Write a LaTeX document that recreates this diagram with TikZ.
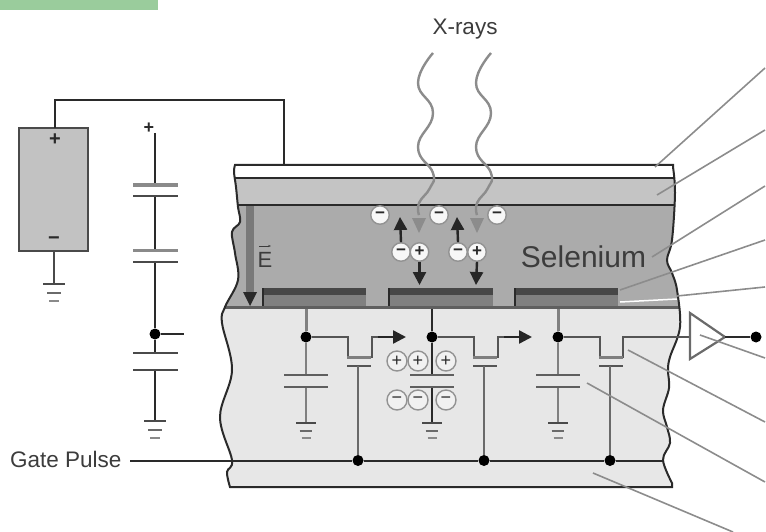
\documentclass[tikz,border=0pt]{standalone}
\usepackage{fontspec}
\setmainfont{Liberation Sans}
\usetikzlibrary{arrows.meta,calc}
\definecolor{ink}{HTML}{2A2A2A}
\definecolor{txt}{HTML}{3C3C3C}
\definecolor{leader}{HTML}{8C8C8C}
\definecolor{layerB}{HTML}{C4C4C4}
\definecolor{selen}{HTML}{ABABAB}
\definecolor{subst}{HTML}{E7E7E7}
\definecolor{batt}{HTML}{C2C2C2}
\definecolor{greenbar}{HTML}{9ACC9C}
\newcommand{\bodypath}{plot[smooth,tension=0.6] coordinates {(235,165)(234,172)(236,187)(238,207)(240,222)(232,232)(235,253)(238,280)(225,307)(222,323)(232,370)(220,417)(232,460)(227,472)(230,487)} -- (672,487) -- plot[smooth,tension=0.6] coordinates {(672,483)(663,460)(670,443)(667,427)(663,410)(669,388)(668,370)(670,357)(680,327)(677,290)(672,273)(667,260)(672,240)(675,193)(673,167)} -- (673,165) -- cycle}
\tikzset{
  x=1pt,y=-1pt,
  wire/.style={draw=ink,line width=2pt},
  wirelt/.style={draw=ink!80,line width=2.4pt},
  plate/.style={draw=ink!85,line width=2.2pt},
  dotn/.style={circle,fill=black,inner sep=0pt,minimum size=11pt},
  ion/.style={circle,draw=gray!85,line width=1.4pt,fill=white!94!gray,inner sep=0pt,minimum size=18.5pt,text=ink,font=\fontsize{17}{17}\selectfont\bfseries},
  ionb/.style={ion,minimum size=20pt,fill=subst!60!white,font=\fontsize{18}{18}\selectfont},
  leaderl/.style={draw=leader,line width=1.6pt},
  label/.style={text=txt,inner sep=0pt,font=\fontsize{22.5}{24}\selectfont},
  blackarrow/.style={draw=black!85,line width=2.4pt,-{Triangle[length=13pt,width=13pt]}},
  gnd/.pic={
    \draw[plate] (-11,0) -- (11,0);
    \draw[plate,draw=ink!70] (-7,9) -- (7,9);
    \draw[plate,draw=ink!55] (-5,17) -- (5,17);
  }
}
\begin{document}
\begin{tikzpicture}
\useasboundingbox (0,0) rectangle (766,532);
\fill[greenbar] (0,0) rectangle (158,10);

% device body
\begin{scope}
  \clip \bodypath;
  \fill[white] (200,160) rectangle (700,178);
  \fill[layerB] (200,178) rectangle (700,205);
  \fill[selen] (200,205) rectangle (700,308);
  \fill[subst] (200,308) rectangle (700,490);
  \draw[wire] (200,178) -- (700,178);
  \draw[wire,line width=2.4pt] (200,205) -- (700,205);
  \draw[wire,line width=3pt,draw=ink!75] (200,307.5) -- (700,307.5);
  \draw[wire] (200,165.5) -- (700,165.5);
  \foreach \l/\r in {263/366,389/493,515/618} {
    \fill[black!50] (\l,294) rectangle (\r,306);
    \fill[black!72] (\l,288) rectangle (\r,295);
    \draw[ink,line width=1.4pt] (\l,288) -- (\l,306);
  }
  \draw[white,line width=1.5pt] (620,302) -- (677,299);
\end{scope}
\draw[ink,line width=2pt] \bodypath;

% leaders
\coordinate (l1a) at (765,68);  \coordinate (l1b) at (655,167);
\coordinate (l2a) at (765,130); \coordinate (l2b) at (657,195);
\coordinate (l3a) at (765,186); \coordinate (l3b) at (652,257);
\coordinate (l4a) at (765,240); \coordinate (l4b) at (620,290);
\coordinate (l5a) at (765,287); \coordinate (l5b) at (677,296);
\coordinate (l6a) at (765,358); \coordinate (l6b) at (700,335);
\coordinate (l7a) at (765,422); \coordinate (l7b) at (628,350);
\coordinate (l8a) at (765,482); \coordinate (l8b) at (587,383);
\coordinate (l9a) at (733,532); \coordinate (l9b) at (593,473);

% battery
\node[draw=ink!85,line width=2.2pt,fill=batt,minimum width=69pt,minimum height=123pt,inner sep=0pt] (battery) at (53.5,189.5) {};
\node[inner sep=0pt,text=ink,font=\fontsize{20}{20}\selectfont\bfseries] (bplus) at (55,139.5) {+};
\node[inner sep=0pt,text=ink,font=\fontsize{20}{20}\selectfont\bfseries] (bminus) at (54,240.5) {−};
\coordinate (topel) at (284,165);
\coordinate (bg) at (54,284);
\draw[wire,line width=2.4pt] (55,128) -- (55,100) -- (284,100) -- (topel);
\draw[wire,draw=ink!85] (54,251) -- (bg);
\pic at (bg) {gnd};

% capacitor stack
\node[inner sep=0pt,text=ink,font=\fontsize{18}{18}\selectfont\bfseries] (splus) at (149,128) {+};
\coordinate (s0) at (155,133);
\coordinate (s1) at (155,185); \coordinate (s2) at (155,196);
\coordinate (s3) at (155,250); \coordinate (s4) at (155,262);
\node[dotn] (sd) at (155,334) {};
\coordinate (sstub) at (184,334);
\coordinate (s5) at (155,353); \coordinate (s6) at (155,370);
\coordinate (sg) at (155,421);
\draw[wire] (s0) -- (s1) (s2) -- (s3) (s4) -- (sd) -- (s5) (s6) -- (sg) (sd) -- (sstub);
\foreach \p/\c/\w in {s1/ink!55/3.6pt,s2/ink!85/2.2pt,s3/ink!55/3pt,s4/ink!85/2.2pt,s5/ink!85/2.2pt,s6/ink!85/2.2pt}
  \draw[draw=\c,line width=\w] ($(\p)+(-22,0)$) -- ($(\p)+(23,0)$);
\pic at (sg) {gnd};

% gate line
\node[label,anchor=west] (gate) at (10,459) {Gate Pulse};
\node[dotn] (g1) at (358,460.5) {};
\node[dotn] (g2) at (484,460.5) {};
\node[dotn] (g3) at (610,460.5) {};
\coordinate (gstart) at (130,460.5);
\coordinate (gend) at (664,460.5);
\draw[wire] (gstart) -- (g1) -- (g2) -- (g3) -- (gend);

% pixel circuits
\node[dotn] (d1) at (306,337) {};
\node[dotn] (d2) at (432,337) {};
\node[dotn] (d3) at (558,337) {};
\coordinate (a1) at (406,337);
\coordinate (a2) at (532,337);
\draw[line width=3pt,draw=gray] (d1) -- (306,309);
\draw[wire] (d2) -- (432,309);
\draw[line width=3pt,draw=gray] (d3) -- (558,309);
\foreach \d/\x/\ty in {d1/348/a1,d2/474/a2} {
  \draw[wirelt,line join=miter] (\d) -- (\x,337) -- (\x,357) -- (\x+24,357) -- (\x+24,337) -- (\x+33,337);
  \draw[blackarrow] (\x+30,337) -- (\ty);
}
% amplifier
\node[dotn] (out) at (756,337) {};
\coordinate (ampin) at (690,337);
\draw[wirelt,line join=miter] (d3) -- (600,337) -- (600,357) -- (623,357) -- (623,337) -- (ampin);
\draw[draw=ink!70,line width=2.2pt,fill=white,line join=miter] (690,313) -- (725,337) -- (690,359) -- cycle;
\coordinate (amptip) at (725,337);
\draw[wire] (amptip) -- (out);

% channel gates + cap columns
\foreach \g/\x in {g1/358,g2/484,g3/610} {
  \draw[line width=3pt,draw=ink!60] (\x-11,357) -- (\x+13,357);
  \draw[plate,draw=ink!80] (\x-11,366) -- (\x+13,366);
  \draw[wirelt,draw=ink!70] (\x,366) -- (\g);
}
\foreach \d/\x/\c in {d1/306/gray,d2/432/ink,d3/558/gray} {
  \draw[line width=2.6pt,draw=\c] (\d) -- (\x,375) (\x,387) -- (\x,423);
  \draw[plate,draw=ink!75] (\x-22,375) -- (\x+22,375);
  \draw[plate,draw=ink!75] (\x-22,387) -- (\x+22,387);
  \pic[scale=.9] at (\x,423) {gnd};
}
% x-rays
\node[label] (xr) at (465,29) {X-rays};
\foreach \dx/\n in {0/1,58/2} {
  \draw[draw=gray!90,line width=2.4pt] plot[smooth,tension=0.8] coordinates {(433+\dx,53)(418+\dx,83)(433+\dx,113)(418+\dx,147)(433+\dx,173)(430+\dx,188)(419+\dx,203)(419+\dx,215)};
  \fill[gray!90] (412+\dx,218) -- (426+\dx,218) -- (419+\dx,233) -- cycle;
}

% field arrow
\coordinate (e0) at (250,206);
\coordinate (e1) at (250,306);
\fill[gray!95!black] (246,206) rectangle (254,296);
\fill[ink] (243,292) -- (257,292) -- (250,306) -- cycle;
\node[text=txt,inner sep=0pt,font=\fontsize{22}{24}\selectfont] (E) at (265,260) {E};
\draw[txt,line width=1pt,-{Stealth[length=3pt]}] (259,246) -- (271,246);

% selenium label
\node[text=txt,inner sep=0pt,font=\fontsize{30}{32}\selectfont] (sel) at (583.5,257) {Selenium};

% leaders drawn over
\draw[leaderl] (l1a) -- (l1b);
\draw[leaderl] (l2a) -- (l2b);
\draw[leaderl] (l3a) -- (l3b);
\draw[leaderl] (l4a) -- (l4b);
\draw[leaderl] (l5a) -- (l5b);
\draw[leaderl] (l6a) -- (l6b);
\draw[leaderl] (l7a) -- (l7b);
\draw[leaderl] (l8a) -- (l8b);
\draw[leaderl] (l9a) -- (l9b);

% charges in selenium
\node[ion] (m1) at (380,215) {−};
\node[ion] (m2) at (439,215) {−};
\node[ion] (m3) at (497,215) {−};
\node[ion] (p1m) at (401,252) {−};
\node[ion] (p1p) at (419.5,252) {+};
\node[ion] (p2m) at (458,252) {−};
\node[ion] (p2p) at (477,252) {+};
\draw[blackarrow] (p1m.north) -- (400,217);
\draw[blackarrow] (p2m.north) -- (457,217);
\draw[blackarrow] (p1p.south) -- (419.5,285);
\draw[blackarrow] (p2p.south) -- (476,285);

% charges on storage capacitor
\node[ionb] (cp1) at (397,361) {+};
\node[ionb] (cp2) at (418,361) {+};
\node[ionb] (cp3) at (446,361) {+};
\node[ionb] (cm1) at (397,400) {−};
\node[ionb] (cm2) at (418,400) {−};
\node[ionb] (cm3) at (446,400) {−};
\end{tikzpicture}
\end{document}
